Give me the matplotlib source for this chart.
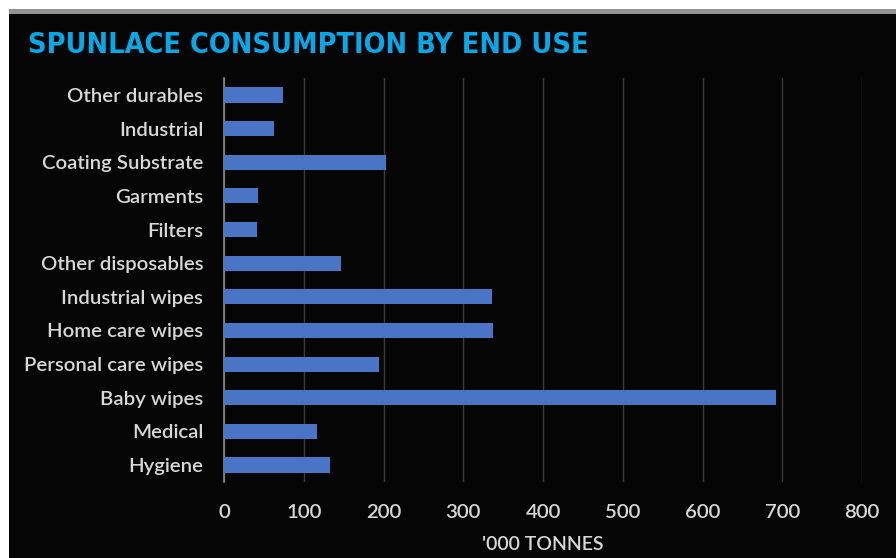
import matplotlib.pyplot as plt
from matplotlib.patches import Rectangle

categories = ['Hygiene', 'Medical', 'Baby wipes', 'Personal care wipes', 'Home care wipes',
              'Industrial wipes', 'Other disposables', 'Filters', 'Garments',
              'Coating Substrate', 'Industrial', 'Other durables']
values = [133, 116, 692, 194, 337, 336, 147, 42, 43, 203, 63, 74]
xticks = [0, 100, 200, 300, 400, 500, 600, 700, 800]

W, H = 896, 558
fig = plt.figure(figsize=(W / 100, H / 100), dpi=100, facecolor='white')

# dark panel with grey strip on top
fig.patches.append(Rectangle((9 / W, 0), 1 - 9 / W, 1 - 14 / H, transform=fig.transFigure,
                             facecolor='#050505', edgecolor='none', zorder=-5))
fig.patches.append(Rectangle((9 / W, 1 - 14 / H), 1 - 9 / W, 5 / H, transform=fig.transFigure,
                             facecolor='#939393', edgecolor='none', zorder=-5))

fig.text(28 / W, 1 - 45 / H, 'SPUNLACE CONSUMPTION BY END USE', color='#0aa6e6',
         fontsize=20.6, fontweight='bold', fontstretch='condensed', va='center', ha='left',
         family=['DejaVu Sans'])

ax = fig.add_axes([224 / W, 1 - 482 / H, (862 - 224) / W, (482 - 78) / H], zorder=2)
ax.set_facecolor('none')
ax.barh(range(len(categories)), values, height=0.45, color='#4a74c6', zorder=3)

ax.set_xlim(0, 800)
ax.set_ylim(-0.505, len(categories) - 0.495)
ax.set_xticks(xticks)
ax.set_yticks(range(len(categories)))
ax.set_yticklabels(categories)
ax.grid(axis='x', color='#3a3a3a', linewidth=1, zorder=0)
for s in ['top', 'right', 'bottom']:
    ax.spines[s].set_visible(False)
ax.spines['left'].set_color('#8a8a8a')
ax.spines['left'].set_linewidth(1.2)
ax.tick_params(axis='both', length=0, colors='#d8d8d8', labelsize=14.7)
ax.tick_params(axis='x', pad=16)
ax.tick_params(axis='y', pad=15)
for lab in ax.get_xticklabels() + ax.get_yticklabels():
    lab.set_family(['Lato', 'DejaVu Sans'])
    lab.set_fontweight('semibold')
ax.set_xlabel("'000 TONNES", color='#d8d8d8', fontsize=14, labelpad=11,
              family=['Lato', 'DejaVu Sans'], fontweight='semibold')

fig.savefig('out.png', dpi=100, facecolor='white')
